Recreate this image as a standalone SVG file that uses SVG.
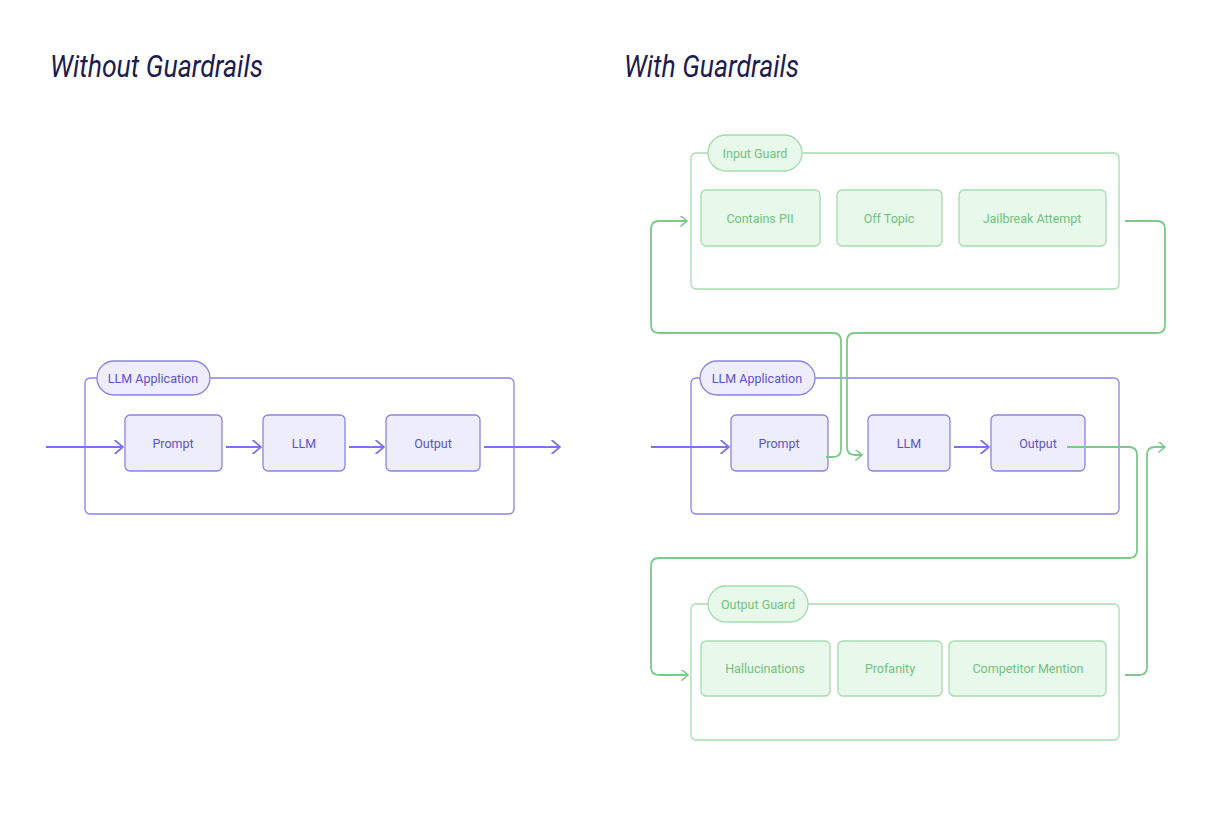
<svg xmlns="http://www.w3.org/2000/svg" width="1232" height="820" viewBox="0 0 1232 820">
<style>
.t{font-family:Roboto,"Liberation Sans",sans-serif;font-size:12.5px;text-anchor:middle;dominant-baseline:central}
.title{font-family:Roboto,"Liberation Sans",sans-serif;font-size:31px;font-style:italic;fill:#1c1c4e}
.pc{fill:#fff;stroke:#8a84e6;stroke-width:1.3}
.pb{fill:#eeedfc;stroke:#8a84e6;stroke-width:1.3}
.pt{fill:#5a53c9}
.gc{fill:#fff;stroke:#a6dcae;stroke-width:1.3}
.gb{fill:#e8f8ea;stroke:#a6dcae;stroke-width:1.3}
.gt{fill:#72c27f}
.pl{fill:none;stroke:#7a72e8;stroke-width:2}
.gl{fill:none;stroke:#7cc98a;stroke-width:1.8}
</style>
<defs>
<marker id="ap" viewBox="0 0 10 10" refX="9" refY="5" markerWidth="14" markerHeight="14" markerUnits="userSpaceOnUse" orient="auto"><path d="M3,0 L9,5 L3,10" fill="none" stroke="#7a72e8" stroke-width="1.3"/></marker>
<marker id="ag" viewBox="0 0 10 10" refX="9" refY="5" markerWidth="11" markerHeight="11" markerUnits="userSpaceOnUse" orient="auto"><path d="M3,0 L9,5 L3,10" fill="none" stroke="#7cc98a" stroke-width="1.4"/></marker>
</defs>
<rect width="1232" height="820" fill="#fff"/>
<text class="title" x="50" y="77" textLength="213" lengthAdjust="spacingAndGlyphs">Without Guardrails</text>
<text class="title" x="624" y="77" textLength="175" lengthAdjust="spacingAndGlyphs">With Guardrails</text>

<g id="left-app"><rect class="pc" x="85" y="378" width="429" height="136" rx="5"/><rect class="pb" x="97" y="361" width="113" height="34" rx="17"/><text class="t pt" x="153" y="378" font-size="11">LLM Application</text></g>
<g id="l-prompt"><rect class="pb" x="125" y="415" width="97" height="56" rx="5"/><text class="t pt" x="173" y="443">Prompt</text></g>
<g id="l-llm"><rect class="pb" x="263" y="415" width="82" height="56" rx="5"/><text class="t pt" x="304" y="443">LLM</text></g>
<g id="l-output"><rect class="pb" x="386" y="415" width="94" height="56" rx="5"/><text class="t pt" x="433" y="443">Output</text></g>

<g id="input-guard"><rect class="gc" x="691" y="153" width="428" height="136" rx="5"/><rect class="gb" x="708" y="135" width="94" height="36" rx="18"/><text class="t gt" x="755" y="153" font-size="11">Input Guard</text></g>
<g id="pii"><rect class="gb" x="701" y="190" width="119" height="56" rx="5"/><text class="t gt" x="760" y="218">Contains PII</text></g>
<g id="offtopic"><rect class="gb" x="837" y="190" width="105" height="56" rx="5"/><text class="t gt" x="889" y="218">Off Topic</text></g>
<g id="jailbreak"><rect class="gb" x="959" y="190" width="147" height="56" rx="5"/><text class="t gt" x="1032" y="218">Jailbreak Attempt</text></g>

<g id="right-app"><rect class="pc" x="691" y="378" width="428" height="136" rx="5"/><rect class="pb" x="700" y="361" width="115" height="34" rx="17"/><text class="t pt" x="757" y="378" font-size="11">LLM Application</text></g>
<g id="r-prompt"><rect class="pb" x="731" y="415" width="97" height="56" rx="5"/><text class="t pt" x="779" y="443">Prompt</text></g>
<g id="r-llm"><rect class="pb" x="868" y="415" width="82" height="56" rx="5"/><text class="t pt" x="909" y="443">LLM</text></g>
<g id="r-output"><rect class="pb" x="991" y="415" width="94" height="56" rx="5"/><text class="t pt" x="1038" y="443">Output</text></g>

<g id="output-guard"><rect class="gc" x="691" y="604" width="428" height="136" rx="5"/><rect class="gb" x="708" y="586" width="100" height="36" rx="18"/><text class="t gt" x="758" y="604" font-size="11">Output Guard</text></g>
<g id="halluc"><rect class="gb" x="701" y="641" width="129" height="55" rx="5"/><text class="t gt" x="765" y="668">Hallucinations</text></g>
<g id="profanity"><rect class="gb" x="838" y="641" width="104" height="55" rx="5"/><text class="t gt" x="890" y="668">Profanity</text></g>
<g id="competitor"><rect class="gb" x="949" y="641" width="157" height="55" rx="5"/><text class="t gt" x="1028" y="668">Competitor Mention</text></g>

<g id="connectors">
<path class="pl" d="M46,447 H123" marker-end="url(#ap)"/>
<path class="pl" d="M226,447 H261" marker-end="url(#ap)"/>
<path class="pl" d="M349,447 H384" marker-end="url(#ap)"/>
<path class="pl" d="M484,447 H560" marker-end="url(#ap)"/>
<path class="pl" d="M651,447 H729" marker-end="url(#ap)"/>
<path class="pl" d="M954,447 H989" marker-end="url(#ap)"/>
<path class="gl" d="M826,457 H833 Q841,457 841,449 V341 Q841,333 833,333 H659 Q651,333 651,325 V229 Q651,221 659,221 H687" marker-end="url(#ag)"/>
<path class="gl" d="M1125,221 H1157 Q1165,221 1165,229 V325 Q1165,333 1157,333 H855 Q847,333 847,341 V447 Q847,455 855,455 H862" marker-end="url(#ag)"/>
<path class="gl" d="M1067,447 H1129 Q1137,447 1137,455 V550 Q1137,558 1129,558 H659 Q651,558 651,566 V667 Q651,675 659,675 H688" marker-end="url(#ag)"/>
<path class="gl" d="M1125,675 H1139 Q1147,675 1147,667 V455 Q1147,447 1155,447 H1165" marker-end="url(#ag)"/>
</g>
</svg>
